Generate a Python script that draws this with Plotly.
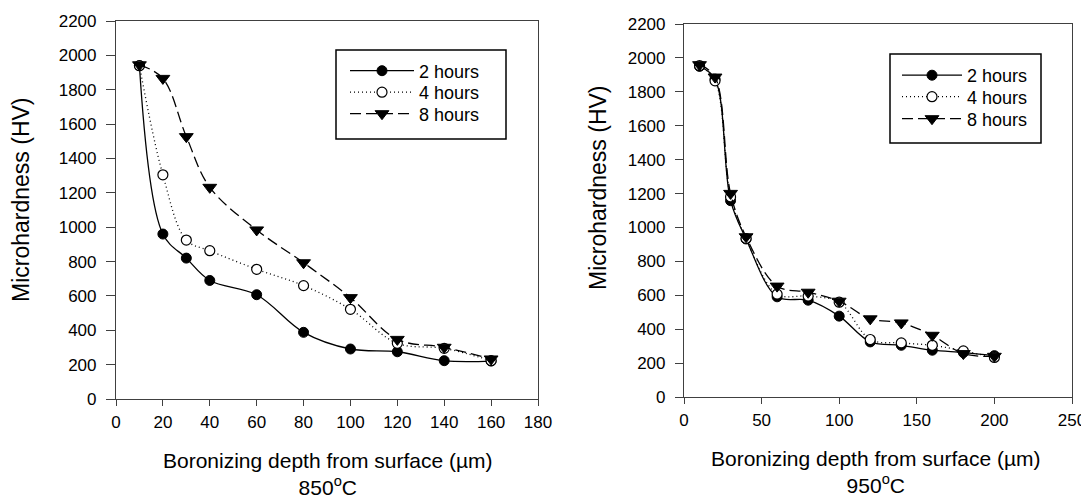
import plotly.graph_objects as go

# ---------------- data ----------------
depth_850 = [10, 20, 30, 40, 60, 80, 100, 120, 140, 160]
hv_850_2h = [1940, 960, 820, 690, 607, 388, 291, 275, 223, 221]
hv_850_4h = [1940, 1305, 925, 863, 755, 660, 522, 324, 295, 223]
hv_850_8h = [1945, 1866, 1527, 1232, 984, 793, 590, 347, 301, 233]

depth_950 = [10, 20, 30, 40, 60, 80, 100, 120, 140, 160, 180, 200]
hv_950_2h = [1950, 1875, 1158, 932, 591, 571, 477, 325, 305, 276, 262, 244]
hv_950_4h = [1955, 1865, 1180, 935, 607, 595, 559, 339, 319, 305, 272, 233]
hv_950_8h = [1960, 1887, 1201, 945, 654, 618, 565, 461, 437, 364, 256, 240]

series_names = ["2 hours", "4 hours", "8 hours"]
x_ticks_850 = [0, 20, 40, 60, 80, 100, 120, 140, 160, 180]
x_ticks_950 = [0, 50, 100, 150, 200, 250]
y_ticks = list(range(0, 2201, 200))

FONT = "Arial, Liberation Sans, sans-serif"
OFF = 8                      # page body margin of the html page
W, H = 1089 - OFF, 498 - OFF


def fx(p):   # screen x pixel -> paper fraction
    return (p - OFF) / W


def fy(p):   # screen y pixel -> paper fraction
    return 1 - (p - OFF) / H


styles = [
    dict(line=dict(color="black", width=1.3, dash="solid", shape="spline", smoothing=1),
         marker=dict(symbol="circle", size=10, color="black", line=dict(color="black", width=1))),
    dict(line=dict(color="black", width=1.3, dash="1px,3px", shape="spline", smoothing=1),
         marker=dict(symbol="circle", size=10, color="white", line=dict(color="black", width=1.2))),
    dict(line=dict(color="black", width=1.3, dash="11px,5px", shape="spline", smoothing=1),
         marker=dict(symbol="triangle-down", size=12, color="black", line=dict(color="black", width=1))),
]

left_legends = ["legend", "legend3", "legend4"]
right_legends = ["legend2", "legend5", "legend6"]

fig = go.Figure()
for name, ys, st, lg in zip(series_names, [hv_850_2h, hv_850_4h, hv_850_8h], styles, left_legends):
    fig.add_trace(go.Scatter(x=depth_850, y=ys, name=name, mode="lines+markers",
                             xaxis="x", yaxis="y", legend=lg, showlegend=True, **st))
for name, ys, st, lg in zip(series_names, [hv_950_2h, hv_950_4h, hv_950_8h], styles, right_legends):
    fig.add_trace(go.Scatter(x=depth_950, y=ys, name=name, mode="lines+markers",
                             xaxis="x2", yaxis="y2", legend=lg, showlegend=True, **st))

axis_common = dict(showline=True, linecolor="#404040", linewidth=1.2, mirror=True,
                   showgrid=False, zeroline=False, ticks="outside", tickcolor="#404040",
                   tickwidth=1.2, tickfont=dict(family=FONT, size=17, color="black"),
                   automargin=False)


def legend_box(left, center_y, itemwidth):
    return dict(x=fx(left), y=fy(center_y - 19.5), xanchor="left", yanchor="top",
                bgcolor="rgba(0,0,0,0)", borderwidth=0, itemwidth=itemwidth, visible=True,
                font=dict(family=FONT, size=18, color="black"))


legends = {}
for lg, cy in zip(left_legends, [72, 93.5, 115]):
    legends[lg] = legend_box(345, cy, 64)
for lg, cy in zip(right_legends, [76.5, 98, 120]):
    legends[lg] = legend_box(897, cy, 60)

fig.update_layout(
    width=W, height=H,
    margin=dict(l=0, r=0, t=0, b=0),
    showlegend=True,
    paper_bgcolor="white", plot_bgcolor="white",
    font=dict(family=FONT, color="black"),
    xaxis=dict(domain=[fx(116), fx(538)], range=[0, 180], tickvals=x_ticks_850,
               ticklen=6, ticklabelstandoff=1, anchor="y", **axis_common),
    yaxis=dict(domain=[fy(399), fy(21)], range=[0, 2200], tickvals=y_ticks,
               ticklen=9, ticklabelstandoff=6, anchor="x", **axis_common),
    xaxis2=dict(domain=[fx(684), fx(1072)], range=[0, 250], tickvals=x_ticks_950,
                ticklen=6, ticklabelstandoff=1, anchor="y2", **axis_common),
    yaxis2=dict(domain=[fy(397), fy(24)], range=[0, 2200], tickvals=y_ticks,
                ticklen=8, ticklabelstandoff=6, anchor="x2", **axis_common),
    shapes=[
        dict(type="rect", xref="paper", yref="paper", x0=fx(336), x1=fx(506),
             y0=fy(139), y1=fy(50), line=dict(color="black", width=1.5),
             fillcolor="white", layer="above"),
        dict(type="rect", xref="paper", yref="paper", x0=fx(890), x1=fx(1041),
             y0=fy(143), y1=fy(54), line=dict(color="black", width=1.5),
             fillcolor="white", layer="above"),
    ],
    annotations=[
        dict(text="Microhardness (HV)", xref="paper", yref="paper", x=fx(21), y=fy(200),
             xanchor="center", yanchor="middle",
             textangle=-90, showarrow=False, font=dict(family=FONT, size=23)),
        dict(text="Microhardness (HV)", xref="paper", yref="paper", x=fx(598), y=fy(188),
             xanchor="center", yanchor="middle",
             textangle=-90, showarrow=False, font=dict(family=FONT, size=23)),
        dict(text="Boronizing depth from surface (\u00b5m)<br>850<sup>o</sup>C",
             xref="paper", yref="paper", x=fx(328), y=fy(474),
             xanchor="center", yanchor="middle", align="center",
             showarrow=False, font=dict(family=FONT, size=21)),
        dict(text="Boronizing depth from surface (\u00b5m)<br>950<sup>o</sup>C",
             xref="paper", yref="paper", x=fx(876), y=fy(472),
             xanchor="center", yanchor="middle", align="center",
             showarrow=False, font=dict(family=FONT, size=21)),
    ],
    **legends,
)

fig.write_html("out.html")
